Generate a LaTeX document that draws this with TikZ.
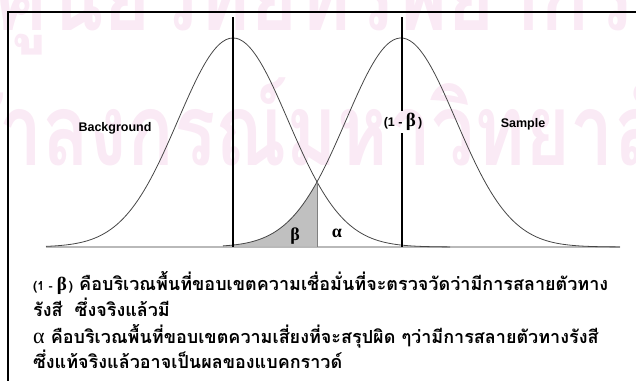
\documentclass[tikz,border=0pt]{standalone}
\usepackage{fontspec}
\setmainfont{Liberation Sans}
\newfontfamily\thaifont[Script=Thai]{Loma}
\newfontfamily\greekfont{Liberation Serif}
\usetikzlibrary{positioning}
\definecolor{curvegray}{RGB}{70,70,70}
\definecolor{basegray}{RGB}{185,185,185}
\definecolor{shadegray}{RGB}{192,192,192}
\definecolor{wmpink}{RGB}{250,234,245}
\tikzstyle{curve} = [curvegray, line width=0.8pt]
\tikzstyle{axis} = [basegray, line width=1.3pt]
\tikzstyle{meanline} = [black, line width=1.3pt]
\tikzstyle{frame} = [black, line width=2pt]
\tikzstyle{curvelabel} = [inner sep=0pt, font=\bfseries\fontsize{12.5}{14}\selectfont]
\tikzstyle{greek} = [inner sep=0pt, font=\greekfont\bfseries\fontsize{18}{18}\selectfont]
\tikzstyle{thailine} = [anchor=base west, inner sep=0pt, font=\thaifont\bfseries\fontsize{18}{20}\selectfont]
\tikzstyle{wmark} = [wmpink, anchor=base, inner sep=0pt, font=\thaifont\bfseries\fontsize{100}{100}\selectfont]

\begin{document}
\begin{tikzpicture}[x=1pt, y=-1pt]
\useasboundingbox (0,0) rectangle (636,380);

% Watermark
\begin{scope}
\clip (0,0) rectangle (636,380);
\node (wmtop) [wmark] at (315,30) {\scalebox{0.81}[1]{ศูนย์วิทยทรัพยากร}};
\node (wmbot) [wmark] at (304,165) {\scalebox{0.77}[1]{จุฬาลงกรณ์มหาวิทยาลัย}};
\end{scope}

% Frame
\coordinate (fbl) at (8,392);
\coordinate (ftr) at (648,12);
\draw [frame] (fbl) |- (ftr);

% Beta area
\fill [shadegray] (223,247) -- plot[domain=223:317, samples=40] (\x,{247-209*exp(-0.5*((\x-401)/55)*((\x-401)/55))}) -- (317,247) -- cycle;

% Baseline and curves
\coordinate (axl) at (46,247);
\coordinate (axr) at (620,247);
\draw [axis] (axl) -- (axr);
\draw [curve] plot[domain=46:450, samples=120, smooth] (\x,{247-209*exp(-0.5*((\x-233)/55)*((\x-233)/55))});
\draw [curve] plot[domain=223:620, samples=120, smooth] (\x,{247-209*exp(-0.5*((\x-401)/55)*((\x-401)/55))});

% Crossing line
\coordinate (cross) at (317,182);
\coordinate (crossfoot) at (317,247);
\draw [gray, line width=0.9pt] (cross) -- (crossfoot);

% Mean lines
\coordinate (bgtop) at (233,17);
\coordinate (bgfoot) at (233,247);
\draw [meanline] (bgtop) -- (bgfoot);
\node (onebeta) [inner xsep=0pt, inner ysep=3pt, text height=12pt, text depth=4pt] at (403,122) {{\bfseries\fontsize{12.5}{12}\selectfont(1 - }{\greekfont\bfseries\fontsize{19}{18}\selectfont β}{\bfseries\fontsize{12.5}{12}\selectfont\,)}};
\coordinate (smtop) at (402,17);
\coordinate (smfoot) at (402,247);
\draw [meanline] (smtop) -- (onebeta.north -| smtop);
\draw [meanline] (onebeta.south -| smfoot) -- (smfoot);

% Labels
\node (bglabel) [curvelabel] at (115,128) {Background};
\node (smlabel) [curvelabel] at (523,124) {Sample};
\node (beta) [greek] at (295,236) {β};
\node (alpha) [greek] at (337,233) {α};

% Explanation
\node (line1) [thailine] at (33,290) {{\bfseries\fontsize{12.5}{12}\selectfont(1 - }{\greekfont\bfseries\fontsize{19}{18}\selectfont β}{\bfseries\fontsize{12.5}{12}\selectfont\,)} คือบริเวณพื้นที่ขอบเขตความเชื่อมั่นที่จะตรวจวัดว่ามีการสลายตัวทาง};
\node (line2) [thailine] at (33,316) {รังสี\ \ ซึ่งจริงแล้วมี};
\node (line3) [thailine] at (33,343) {{\greekfont\mdseries\fontsize{22}{20}\selectfont α}\ คือบริเวณพื้นที่ขอบเขตความเสี่ยงที่จะสรุปผิด ๆว่ามีการสลายตัวทางรังสี};
\node (line4) [thailine] at (33,368) {ซึ่งแท้จริงแล้วอาจเป็นผลของแบคกราวด์};

\end{tikzpicture}
\end{document}
